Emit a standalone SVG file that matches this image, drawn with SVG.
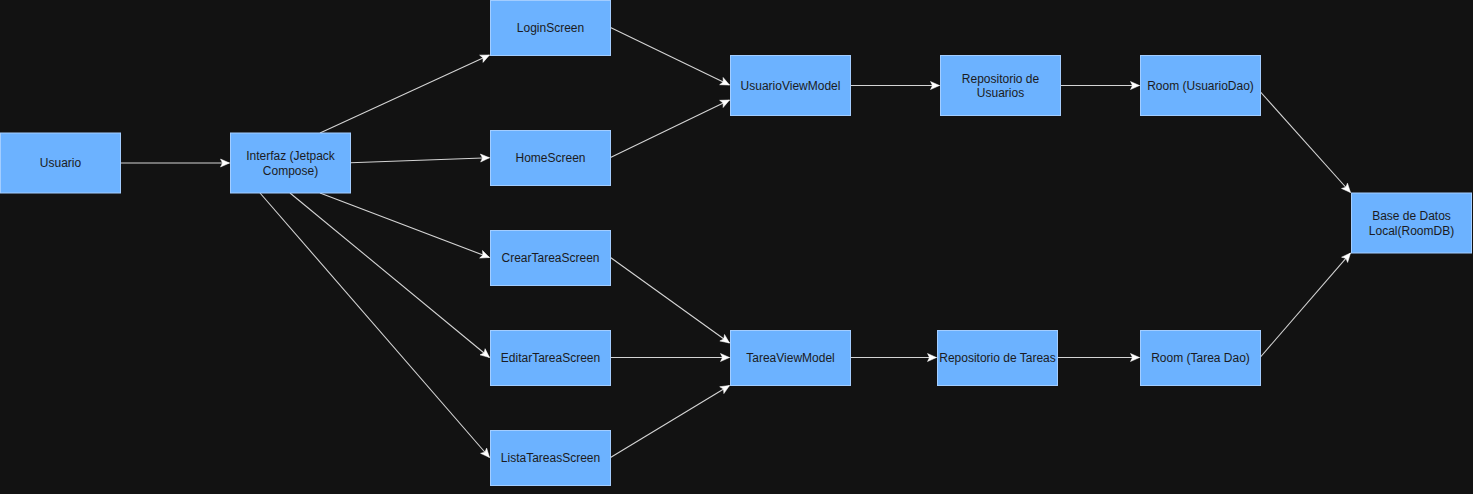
<svg xmlns="http://www.w3.org/2000/svg" width="1473" height="494" viewBox="0 0 1473 494">
<style>
.n rect{fill:#6cb2ff;stroke:#a3cdff;stroke-width:1}
.n text{font-family:"Liberation Sans",Arial,sans-serif;font-size:12px;fill:#1b1b22;text-anchor:middle;dominant-baseline:central}
.e path{fill:none;stroke:#d4d4d4;stroke-width:1.1}
</style>
<defs>
<marker id="a" markerUnits="userSpaceOnUse" markerWidth="12" markerHeight="12" viewBox="0 0 12 12" refX="10" refY="6" orient="auto">
<path d="M1,2 L10,6 L1,10 L3,6 Z" fill="#ffffff" stroke="#ffffff" stroke-width="0.5"/>
</marker>
</defs>
<rect x="0" y="0" width="1473" height="494" fill="#121212"/>
<g class="e">
<path d="M120.5,163 L229.5,163" marker-end="url(#a)"/>
<path d="M320,133 L489.5,55" marker-end="url(#a)"/>
<path d="M350.5,162.7 L489.5,157.7" marker-end="url(#a)"/>
<path d="M320,193 L489.5,257.5" marker-end="url(#a)"/>
<path d="M290,193 L489.5,357.5" marker-end="url(#a)"/>
<path d="M260,193 L489.5,457.5" marker-end="url(#a)"/>
<path d="M610.5,27.5 L729.5,85" marker-end="url(#a)"/>
<path d="M610.5,157.5 L729.5,100" marker-end="url(#a)"/>
<path d="M850.5,85.5 L939.5,85.5" marker-end="url(#a)"/>
<path d="M1060.5,85.5 L1139.5,85.5" marker-end="url(#a)"/>
<path d="M1260.5,92 L1350.5,192.5" marker-end="url(#a)"/>
<path d="M610.5,257.5 L729.5,343" marker-end="url(#a)"/>
<path d="M610.5,357.5 L729.5,357.5" marker-end="url(#a)"/>
<path d="M610.5,457.5 L729.5,385.5" marker-end="url(#a)"/>
<path d="M850.5,357.5 L936.5,357.5" marker-end="url(#a)"/>
<path d="M1057.5,357.5 L1139.5,357.5" marker-end="url(#a)"/>
<path d="M1260.5,357 L1350.5,253" marker-end="url(#a)"/>
</g>
<g id="usuario" class="n"><rect x="0.5" y="133" width="120" height="60"/><text x="60.5" y="163">Usuario</text></g>
<g id="interfaz" class="n"><rect x="230.5" y="133" width="120" height="60"/><text x="290.5" y="163"><tspan x="290.5" dy="-7">Interfaz (Jetpack</tspan><tspan x="290.5" dy="14.5">Compose)</tspan></text></g>
<g id="login" class="n"><rect x="490.5" y="0.5" width="120" height="55"/><text x="550.5" y="28">LoginScreen</text></g>
<g id="home" class="n"><rect x="490.5" y="130.5" width="120" height="55"/><text x="550.5" y="158">HomeScreen</text></g>
<g id="crear" class="n"><rect x="490.5" y="230.5" width="120" height="55"/><text x="550.5" y="258">CrearTareaScreen</text></g>
<g id="editar" class="n"><rect x="490.5" y="330.5" width="120" height="55"/><text x="550.5" y="358">EditarTareaScreen</text></g>
<g id="lista" class="n"><rect x="490.5" y="430.5" width="120" height="55"/><text x="550.5" y="458">ListaTareasScreen</text></g>
<g id="usuarioVM" class="n"><rect x="730.5" y="55.5" width="120" height="60"/><text x="790.5" y="85.5">UsuarioViewModel</text></g>
<g id="repoUsuarios" class="n"><rect x="940.5" y="55.5" width="120" height="60"/><text x="1000.5" y="85.5"><tspan x="1000.5" dy="-7">Repositorio de</tspan><tspan x="1000.5" dy="14.5">Usuarios</tspan></text></g>
<g id="roomUsuario" class="n"><rect x="1140.5" y="55.5" width="120" height="60"/><text x="1200.5" y="85.5">Room (UsuarioDao)</text></g>
<g id="baseDatos" class="n"><rect x="1351.5" y="193" width="120" height="60"/><text x="1411.5" y="223"><tspan x="1411.5" dy="-7">Base de Datos</tspan><tspan x="1411.5" dy="14.5">Local(RoomDB)</tspan></text></g>
<g id="tareaVM" class="n"><rect x="730.5" y="330.5" width="120" height="55"/><text x="790.5" y="358">TareaViewModel</text></g>
<g id="repoTareas" class="n"><rect x="937.5" y="330.5" width="120" height="55"/><text x="997.5" y="358">Repositorio de Tareas</text></g>
<g id="roomTarea" class="n"><rect x="1140.5" y="330.5" width="120" height="55"/><text x="1200.5" y="358">Room (Tarea Dao)</text></g>
</svg>
